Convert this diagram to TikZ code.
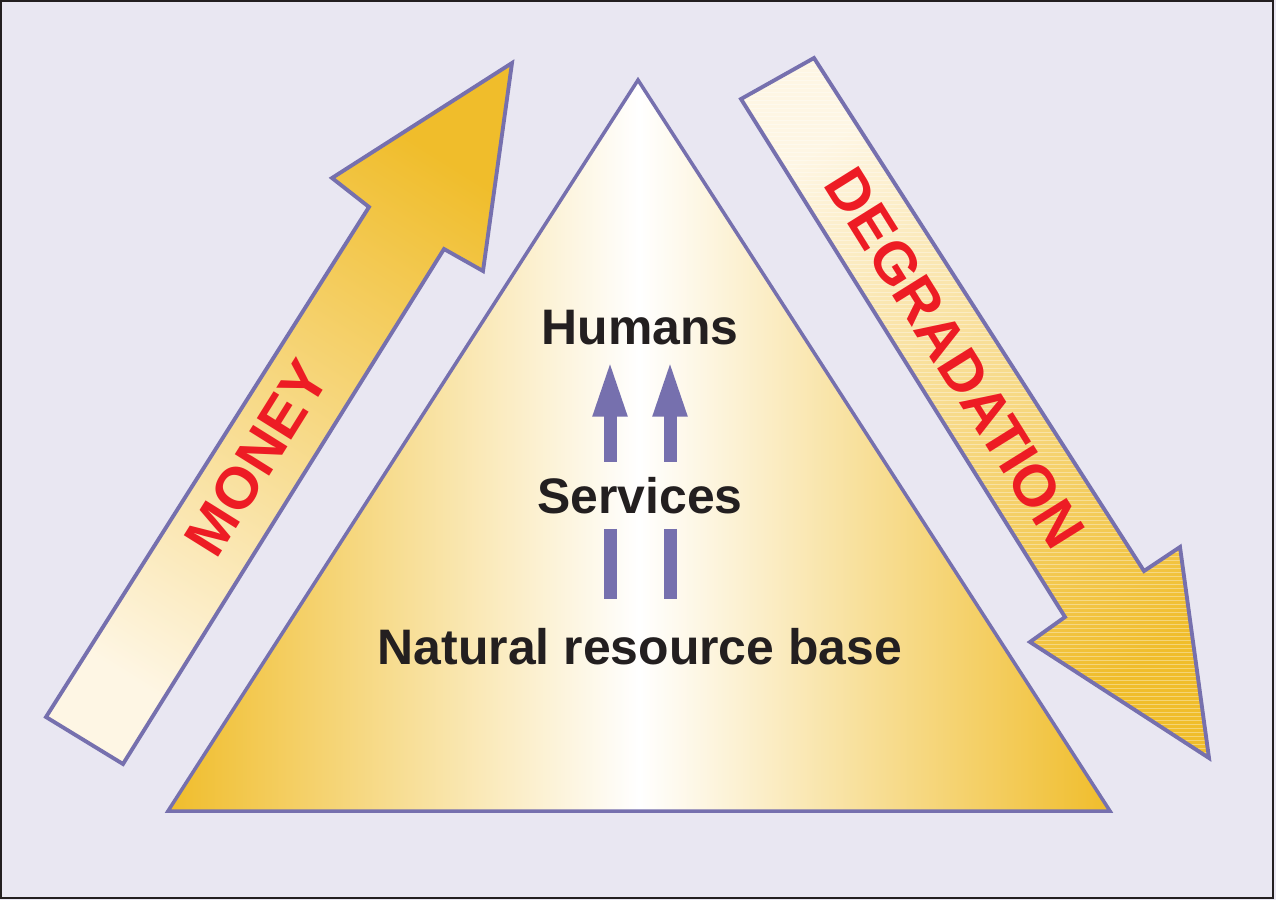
\documentclass[tikz,border=0pt]{standalone}
\usepackage{fontspec}
\setmainfont{Liberation Sans}
\usetikzlibrary{arrows.meta,calc}

\definecolor{bgcol}{HTML}{E9E7F2}
\definecolor{edgecol}{HTML}{7670AE}
\definecolor{goldcol}{HTML}{F0BD2B}
\definecolor{creamcol}{HTML}{FEF6E4}
\definecolor{redcol}{HTML}{ED1C24}
\definecolor{inkcol}{HTML}{231F20}

\tikzset{
		outline/.style    = {draw=edgecol, line width=2.2pt, line join=miter},
		labeltext/.style  = {font=\fontsize{28.4}{34}\selectfont\bfseries,
				text=inkcol, inner sep=8.5pt, anchor=base},
		bigword/.style    = {font=\fontsize{33.5}{40}\selectfont\bfseries, text=redcol},
		flow/.style       = {draw=edgecol, line width=7.4pt},
		stripes/.style    = {path picture={
						\foreach \y in {56,60,...,760}
						\draw[white, opacity=.35, line width=.4pt] (730,\y) -- (1215,\y);}}
	}

\begin{document}
\begin{tikzpicture}
		[x = 0.02cm, y = -0.02cm]
		\useasboundingbox (0,0) rectangle (1276,900);
		\fill[bgcol] (0,0) rectangle (1276,900);
		\draw[inkcol, line width=1.2pt] (1,1) rectangle (1273,898);

		% pyramid
		\draw[outline, line width=2pt, left color=goldcol, right color=goldcol, middle color=white]
		(638,80) -- (1110,811) -- (168,811) -- cycle;

		% side arrows
		\draw[outline, top color=goldcol, bottom color=creamcol, shading angle=-32]
		(46,717) -- (369,207) -- (332,178) -- (512,63) -- (483,271) -- (444,249) -- (123,764) -- cycle;
		\draw[outline, stripes, top color=creamcol, bottom color=goldcol, shading angle=32]
		(741,99) -- (814,58) -- (1144,571) -- (1180,547) -- (1209,758) -- (1030,642) -- (1065,617) -- cycle;

		\node[bigword, rotate=58] (money) at (257,458) {MONEY};
		\node[bigword, rotate=-58] (degradation) at (955,358) {DEGRADATION};

		\node[labeltext] (humans) at (640,344) {Humans};
		\node[labeltext] (services) at (640,513) {Services};
		\node[labeltext] (resource) at (640,664) {Natural resource base};

		\foreach \dx in {-30,30} {
				\draw[flow, -{Triangle[width=17.6pt,length=32.3pt]}]
				($(services.north)+(\dx,0)$) -- ($(humans.south)+(\dx,0)$);
				\draw[flow, shorten >=7.7pt]
				($(services.south)+(\dx,0)$) -- ($(resource.north)+(\dx,0)$);
			}
	\end{tikzpicture}
\end{document}
